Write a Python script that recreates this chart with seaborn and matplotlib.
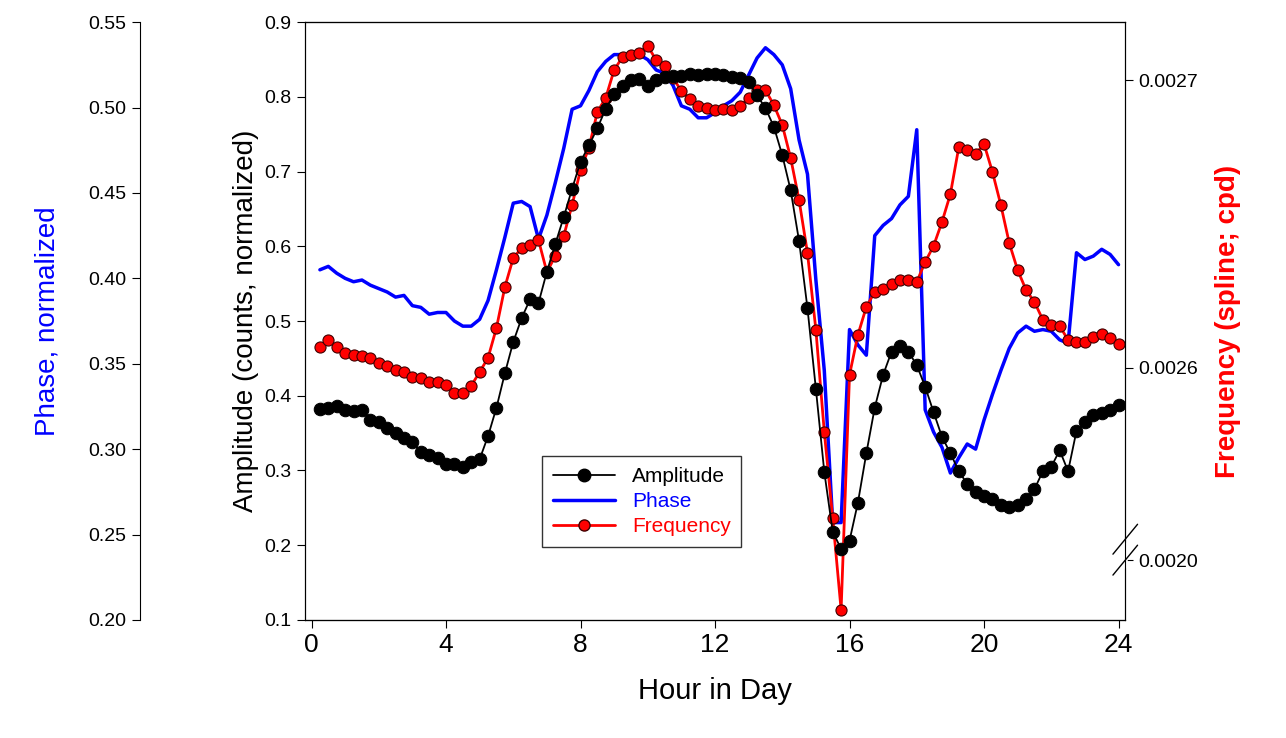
import numpy as np
import matplotlib
matplotlib.use('Agg')
import matplotlib.pyplot as plt
import seaborn as sns
from matplotlib.lines import Line2D

sns.set_style('ticks')
plt.rcParams['font.family'] = ['Liberation Sans', 'DejaVu Sans']
plt.rcParams['text.color'] = 'black'
plt.rcParams['axes.labelcolor'] = 'black'
plt.rcParams['xtick.color'] = 'black'
plt.rcParams['ytick.color'] = 'black'
plt.rcParams['axes.edgecolor'] = 'black'

amplitude = [0.382, 0.384, 0.386, 0.381, 0.380, 0.381, 0.368, 0.365, 0.357, 0.350, 0.343, 0.338,
             0.325, 0.321, 0.317, 0.308, 0.309, 0.305, 0.311, 0.315, 0.346, 0.384, 0.430, 0.472,
             0.504, 0.529, 0.524, 0.566, 0.603, 0.639, 0.677, 0.713, 0.735, 0.758, 0.784, 0.804,
             0.814, 0.822, 0.824, 0.814, 0.822, 0.826, 0.828, 0.828, 0.830, 0.829, 0.830, 0.830,
             0.829, 0.826, 0.825, 0.820, 0.802, 0.785, 0.760, 0.722, 0.675, 0.607, 0.517, 0.409,
             0.298, 0.218, 0.195, 0.206, 0.257, 0.323, 0.384, 0.428, 0.459, 0.467, 0.459, 0.441,
             0.412, 0.378, 0.345, 0.323, 0.299, 0.282, 0.271, 0.266, 0.262, 0.254, 0.251, 0.254,
             0.262, 0.275, 0.299, 0.305, 0.327, 0.299, 0.353, 0.365, 0.374, 0.377, 0.381, 0.388]

frequency = [0.0026073, 0.0026097, 0.0026073, 0.0026052, 0.0026045, 0.0026042, 0.0026035, 0.0026017,
             0.0026007, 0.0025993, 0.0025986, 0.0025969, 0.0025965, 0.0025951, 0.0025951, 0.0025941,
             0.0025913, 0.0025913, 0.0025938, 0.0025986, 0.0026035, 0.0026139, 0.0026281, 0.0026382,
             0.0026417, 0.0026427, 0.0026444, 0.0026333, 0.0026389, 0.0026458, 0.0026566, 0.0026688,
             0.0026764, 0.0026889, 0.0026938, 0.0027035, 0.0027080, 0.0027087, 0.0027094, 0.0027118,
             0.0027069, 0.0027049, 0.0027007, 0.0026962, 0.0026934, 0.0026910, 0.0026903, 0.0026896,
             0.0026900, 0.0026896, 0.0026910, 0.0026938, 0.0026965, 0.0026965, 0.0026913, 0.0026844,
             0.0026729, 0.0026583, 0.0026399, 0.0026132, 0.0025778, 0.0025479, 0.0025160, 0.0025976,
             0.0026115, 0.0026212, 0.0026264, 0.0026274, 0.0026292, 0.0026306, 0.0026306, 0.0026299,
             0.0026368, 0.0026424, 0.0026507, 0.0026604, 0.0026767, 0.0026757, 0.0026743, 0.0026778,
             0.0026681, 0.0026566, 0.0026434, 0.0026340, 0.0026271, 0.0026229, 0.0026167, 0.0026149,
             0.0026146, 0.0026097, 0.0026090, 0.0026090, 0.0026108, 0.0026118, 0.0026104, 0.0026083]

phase = [0.405, 0.407, 0.403, 0.400, 0.398, 0.399, 0.396, 0.394, 0.392, 0.389, 0.390, 0.384,
         0.383, 0.379, 0.380, 0.380, 0.375, 0.372, 0.372, 0.376, 0.387, 0.405, 0.424, 0.444,
         0.445, 0.442, 0.423, 0.437, 0.456, 0.476, 0.499, 0.501, 0.510, 0.521, 0.527, 0.531,
         0.531, 0.530, 0.531, 0.528, 0.522, 0.520, 0.513, 0.501, 0.499, 0.494, 0.494, 0.497,
         0.501, 0.504, 0.509, 0.519, 0.529, 0.535, 0.531, 0.525, 0.511, 0.481, 0.461, 0.399,
         0.346, 0.257, 0.257, 0.370, 0.361, 0.355, 0.425, 0.431, 0.435, 0.443, 0.448, 0.487,
         0.323, 0.310, 0.301, 0.286, 0.295, 0.303, 0.300, 0.317, 0.332, 0.346, 0.359, 0.368,
         0.372, 0.369, 0.370, 0.369, 0.364, 0.362, 0.415, 0.411, 0.413, 0.417, 0.414, 0.408]

hours_a = np.linspace(0.25, 24, len(amplitude))
hours_f = np.linspace(0.25, 24, len(frequency))
hours_p = np.linspace(0.25, 24, len(phase))

fig = plt.figure(figsize=(12.86, 7.38), dpi=100)
ax = fig.add_axes([0.237, 0.160, 0.638, 0.810])
ax_f = ax.twinx()
ax_p = ax.twinx()

sns.lineplot(x=hours_p, y=phase, ax=ax_p, color='#0000ff', lw=2.5)
sns.lineplot(x=hours_f, y=frequency, ax=ax_f, color='red', lw=2, marker='o',
             markersize=8, markerfacecolor='red', markeredgecolor='#400000', markeredgewidth=0.8)
sns.lineplot(x=hours_a, y=amplitude, ax=ax, color='black', lw=1.3, marker='o',
             markersize=9, markerfacecolor='black', markeredgecolor='black')
ax.set_zorder(3)
ax.patch.set_visible(False)
ax_f.set_zorder(2)

ax.set_xlim(-0.2, 24.2)
ax.set_xticks(range(0, 25, 4))
ax.set_ylim(0.1, 0.9)
ax.set_yticks(np.arange(0.1, 0.91, 0.1))
ax.set_yticklabels([f'{v:.1f}' for v in np.arange(0.1, 0.91, 0.1)])
ax.tick_params(axis='x', labelsize=19, direction='out', length=6)
ax.tick_params(axis='y', labelsize=14, direction='out', length=6)
ax.set_xlabel('Hour in Day', fontsize=21, labelpad=14)
ax.set_ylabel('Amplitude (counts, normalized)', fontsize=20)

ax_p.set_ylim(0.20, 0.55)
ax_p.set_yticks(np.arange(0.20, 0.551, 0.05))
ax_p.set_yticklabels([f'{v:.2f}' for v in np.arange(0.20, 0.551, 0.05)])
ax_p.spines['right'].set_visible(False)
ax_p.spines['left'].set_visible(True)
ax_p.spines['left'].set_position(('axes', -0.201))
ax_p.yaxis.set_ticks_position('left')
ax_p.yaxis.set_label_position('left')
ax_p.tick_params(axis='y', labelsize=14, direction='out', length=6)
ax_p.set_ylabel('Phase, normalized', fontsize=20, color='#0000ff', labelpad=20)

ax_f.set_ylim(0.0025125, 0.0027201)
ax_f.set_yticks([0.0025333, 0.0026, 0.0027])
ax_f.set_yticklabels(['0.0020', '0.0026', '0.0027'])
ax_f.tick_params(axis='y', labelsize=14, direction='out', length=6)
ax_f.set_ylabel('Frequency (spline; cpd)', fontsize=20, color='red', fontweight='bold', labelpad=12)

# axis break on the right spine
ax_f.plot([1, 1], [0.09, 0.125], transform=ax_f.transAxes, color='white', lw=4,
          clip_on=False, zorder=10)
for y0 in (0.075, 0.11):
    ax_f.plot([0.985, 1.015], [y0, y0 + 0.05], transform=ax_f.transAxes, color='black',
              lw=1, clip_on=False, zorder=11)

handles = [Line2D([], [], color='black', marker='o', markersize=9, lw=1.3),
           Line2D([], [], color='#0000ff', lw=2.5),
           Line2D([], [], color='red', marker='o', markersize=8, markeredgecolor='#400000', lw=2)]
leg = ax.legend(handles, ['Amplitude', 'Phase', 'Frequency'], loc='lower left',
                bbox_to_anchor=(0.277, 0.105), fontsize=15, frameon=True, fancybox=False,
                edgecolor='black', handlelength=3, borderpad=0.5, labelspacing=0.3)
leg.get_frame().set_linewidth(1)
for t, c in zip(leg.get_texts(), ['black', '#0000ff', 'red']):
    t.set_color(c)

fig.savefig('out.png', dpi=100)
